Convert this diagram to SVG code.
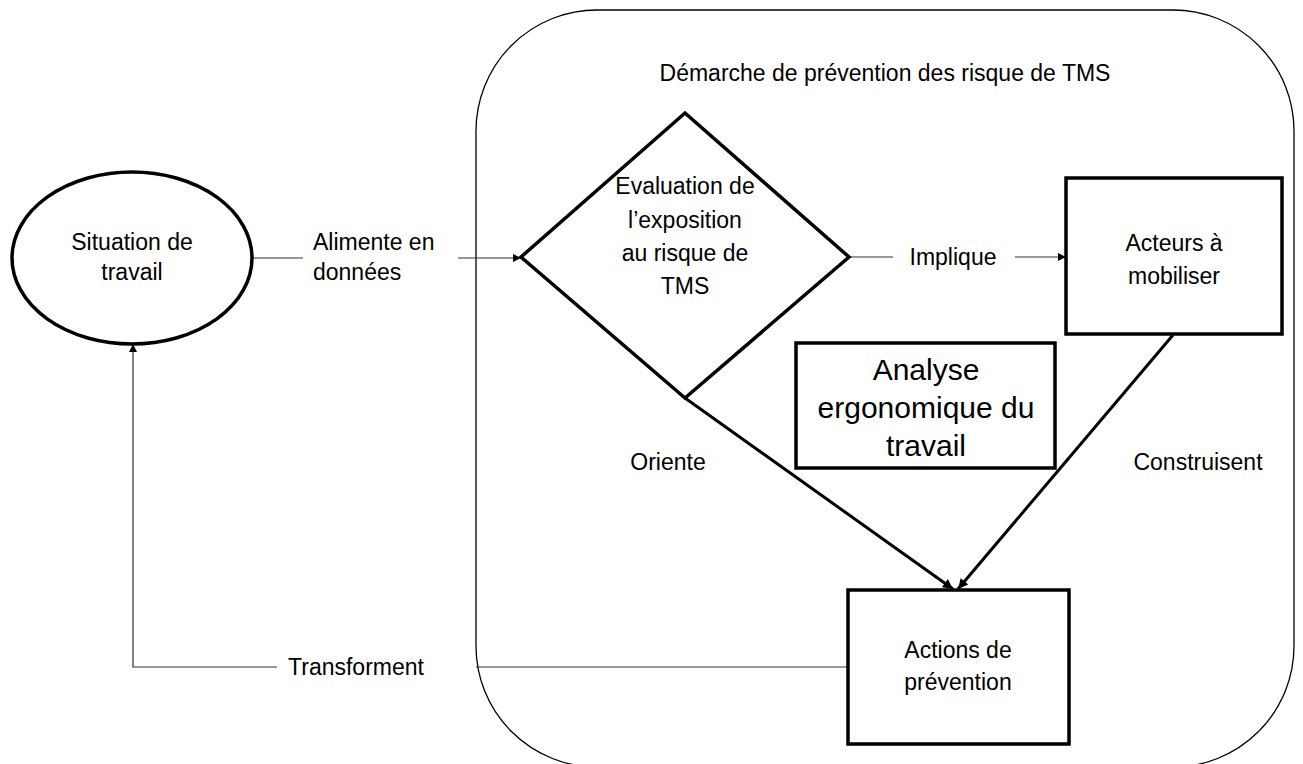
<svg xmlns="http://www.w3.org/2000/svg" width="1303" height="764" viewBox="0 0 1303 764">
<defs>
<marker id="ah" viewBox="0 0 10 10" refX="10" refY="5" markerWidth="9" markerHeight="8" markerUnits="userSpaceOnUse" orient="auto"><path d="M0,0 L10,5 L0,10 z" fill="#000"/></marker>
<marker id="ahb" viewBox="0 0 10 10" refX="10" refY="5" markerWidth="12" markerHeight="10" markerUnits="userSpaceOnUse" orient="auto"><path d="M0,0 L10,5 L0,10 z" fill="#000"/></marker>
<style>
text{font-family:"Liberation Sans",Arial,sans-serif;font-size:23px;fill:#000;text-anchor:middle}
.l{text-anchor:start}
.big{font-size:30px}
.shape{fill:#fff;stroke:#000;stroke-width:3.5}
.thin{fill:none;stroke:#333;stroke-width:1.2}
.thick{fill:none;stroke:#000;stroke-width:3}
</style>
</defs>
<rect width="1303" height="764" fill="#fff"/>
<g id="container">
<rect x="476" y="10" width="818" height="757" rx="121" ry="121" fill="none" stroke="#000" stroke-width="1.3"/>
<text x="885" y="81">Démarche de prévention des risque de TMS</text>
</g>
<g id="connectors">
<line class="thin" x1="253" y1="258" x2="303" y2="258"/>
<line class="thin" x1="458" y1="258" x2="521" y2="258" marker-end="url(#ah)"/>
<line class="thin" x1="849" y1="257" x2="893" y2="257"/>
<line class="thin" x1="1015" y1="257" x2="1066" y2="257" marker-end="url(#ah)"/>
<line class="thick" x1="685" y1="398" x2="953" y2="589" marker-end="url(#ahb)"/>
<line class="thick" x1="1173" y1="335" x2="958" y2="589" marker-end="url(#ahb)"/>
<line class="thin" x1="848" y1="667" x2="476" y2="667"/>
<polyline class="thin" points="277,667 133,667 133,344" marker-end="url(#ah)"/>
</g>
<g id="label-alimente"><text class="l" x="313" y="250">Alimente en</text><text class="l" x="313" y="280">données</text></g>
<g id="label-implique"><text x="953" y="265">Implique</text></g>
<g id="label-oriente"><text x="668" y="470">Oriente</text></g>
<g id="label-construisent"><text x="1198" y="470">Construisent</text></g>
<g id="label-transforment"><text x="356" y="675">Transforment</text></g>
<g id="situation">
<ellipse class="shape" cx="132" cy="258" rx="120" ry="86"/>
<text x="132" y="250">Situation de</text><text x="132" y="280">travail</text>
</g>
<g id="evaluation">
<polygon class="shape" points="685,113 849,257 685,398 521,257"/>
<text x="685" y="194">Evaluation de</text><text x="685" y="228">l’exposition</text><text x="685" y="261">au risque de</text><text x="685" y="294">TMS</text>
</g>
<g id="acteurs">
<rect class="shape" x="1066" y="178" width="216" height="156"/>
<text x="1174" y="251">Acteurs à</text><text x="1174" y="284">mobiliser</text>
</g>
<g id="analyse">
<rect class="shape" x="796" y="343" width="259" height="125"/>
<text class="big" x="926" y="380">Analyse</text><text class="big" x="926" y="418">ergonomique du</text><text class="big" x="926" y="456">travail</text>
</g>
<g id="actions">
<rect class="shape" x="848" y="590" width="221" height="154"/>
<text x="958" y="658">Actions de</text><text x="958" y="690">prévention</text>
</g>
</svg>
